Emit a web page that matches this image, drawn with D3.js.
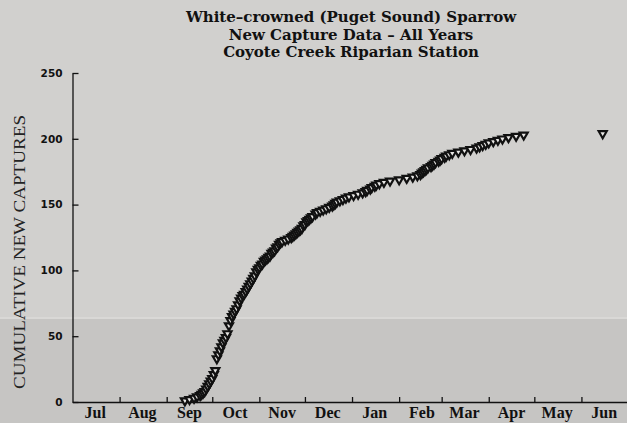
<!DOCTYPE html>
<html>
<head>
<meta charset="utf-8">
<script src="https://d3js.org/d3.v7.min.js"></script>
<style>
  body { margin: 0; background: #d1d0ce; }
  svg { display: block; }
</style>
</head>
<body>
<svg width="627" height="423"></svg>
<script>
// capture dates (season runs Jul -> Jun) and cumulative new captures, one line per month
const captureDates = [
  "09-13","09-16","09-19","09-21","09-23","09-24","09-25","09-26","09-27","09-28","09-29","09-30",
  "10-01","10-02","10-03","10-04","10-05","10-06","10-07","10-08","10-09","10-10","10-11","10-12","10-13","10-14","10-15","10-16",
  "10-17","10-18","10-19","10-20","10-21","10-22","10-23","10-24","10-25","10-26","10-27","10-28","10-29","10-30","10-31",
  "11-01","11-02","11-03","11-04","11-05","11-06","11-07","11-08","11-09","11-10","11-11","11-12","11-13","11-14","11-15","11-16",
  "11-18","11-20","11-22","11-23","11-24","11-25","11-26","11-27","11-28","11-29","11-30",
  "12-01","12-02","12-03","12-04","12-05","12-06","12-08","12-09","12-11","12-13","12-15","12-17","12-19","12-20","12-21","12-22",
  "12-24","12-26","12-28","12-30",
  "01-02","01-05","01-08","01-10","01-11","01-13","01-14","01-16","01-17","01-19","01-22","01-26",
  "02-01","02-06","02-10","02-13","02-15","02-16","02-17","02-18","02-19","02-20","02-22","02-23","02-24","02-25","02-27","02-28",
  "03-01","03-03","03-04","03-06","03-08","03-12","03-16","03-20","03-24","03-26","03-28","03-30",
  "04-01","04-04","04-07","04-10","04-14","04-19","04-24",
  "06-15"
];
const cumulative = [
  1,2,3,4,5,6,7,8,10,12,14,16,
  18,21,24,33,36,39,42,45,47,49,52,58,62,65,67,69,
  71,74,77,79,81,82,84,86,88,90,92,94,96,99,101,
  102,104,105,107,108,109,110,111,113,114,115,117,118,120,121,122,
  123,124,125,126,127,128,129,130,131,132,134,
  135,137,138,139,140,141,143,144,145,146,147,148,149,150,151,152,
  153,154,155,156,
  157,158,159,160,161,162,163,164,165,166,167,168,
  169,170,171,172,173,174,175,176,177,178,179,180,181,182,183,184,
  185,186,187,188,189,190,191,192,193,194,195,196,
  197,198,199,200,201,202,203,
  204
];
const monthLabels = ["Jul","Aug","Sep","Oct","Nov","Dec","Jan","Feb","Mar","Apr","May","Jun"];
const yTicks = [0, 50, 100, 150, 200, 250];
const titleLines = [
  "White\u2013crowned (Puget Sound) Sparrow",
  "New Capture Data \u2013 All Years",
  "Coyote Creek Riparian Station"
];

function toDate(s) {
  const [m, d] = s.split("-").map(Number);
  return new Date(m >= 7 ? 2001 : 2002, m - 1, d);
}
const data = captureDates.map((s, i) => ({ date: toDate(s), value: cumulative[i] }));

const svg = d3.select("svg");

// paper background, lower part of the scan is a bit darker
svg.append("rect").attr("width", 627).attr("height", 423).attr("fill", "#d1d0ce");
svg.append("rect").attr("y", 319).attr("width", 627).attr("height", 104).attr("fill", "#c6c5c3");
svg.append("rect").attr("y", 317).attr("width", 627).attr("height", 2).attr("fill", "#d9d8d6");

const x = d3.scaleTime()
  .domain([new Date(2001, 6, 1), new Date(2002, 6, 1)])
  .range([72.5, 627]);
const y = d3.scaleLinear().domain([0, 250]).range([402, 73]);

// title
svg.append("g").selectAll("text").data(titleLines).enter().append("text")
  .attr("x", 351)
  .attr("y", (d, i) => 22 + i * 17.5)
  .attr("text-anchor", "middle")
  .attr("font-family", "DejaVu Serif")
  .attr("font-weight", "bold")
  .attr("font-size", 15)
  .attr("fill", "#111")
  .text(d => d);

// y axis
const yAxis = svg.append("g")
  .attr("transform", "translate(72.5,0)")
  .call(d3.axisLeft(y).tickValues(yTicks).tickSize(-6).tickSizeOuter(0).tickPadding(10));
yAxis.select(".domain").attr("stroke", "#111").attr("stroke-width", 1.3);
yAxis.selectAll(".tick line").attr("stroke", "#111").attr("stroke-width", 1.3);
yAxis.selectAll(".tick text")
  .attr("font-family", "DejaVu Sans")
  .attr("font-weight", "bold")
  .attr("font-size", 10.5)
  .attr("fill", "#111");

// x axis: ticks at month boundaries, labels mid-month
const monthStarts = d3.timeMonth.range(new Date(2001, 7, 1), new Date(2002, 6, 1));
const xAxis = svg.append("g")
  .attr("transform", "translate(0,402)")
  .call(d3.axisBottom(x).tickValues(monthStarts).tickSize(-5).tickSizeOuter(0).tickFormat(""));
xAxis.select(".domain").attr("stroke", "#111").attr("stroke-width", 1.3);
xAxis.selectAll(".tick line").attr("stroke", "#111").attr("stroke-width", 1.3);

const midMonths = d3.timeMonth.range(new Date(2001, 6, 1), new Date(2002, 6, 1))
  .map(d => new Date(d.getFullYear(), d.getMonth(), 16));
svg.append("g").selectAll("text").data(midMonths).enter().append("text")
  .attr("x", d => x(d))
  .attr("y", 418)
  .attr("text-anchor", "middle")
  .attr("font-family", "Liberation Serif")
  .attr("font-weight", "bold")
  .attr("font-size", 16)
  .attr("fill", "#111")
  .text((d, i) => monthLabels[i]);

// y axis title
svg.append("text")
  .attr("transform", "translate(25,252) rotate(-90)")
  .attr("text-anchor", "middle")
  .attr("font-family", "Liberation Serif")
  .attr("font-size", 17)
  .attr("textLength", 274)
  .attr("lengthAdjust", "spacingAndGlyphs")
  .attr("fill", "#222")
  .text("CUMULATIVE NEW CAPTURES");

// markers: open downward triangles
const tri = d3.symbol().type(d3.symbolTriangle).size(28);
svg.append("g").selectAll("path").data(data).enter().append("path")
  .attr("d", tri)
  .attr("transform", d => `translate(${x(d.date)},${y(d.value)}) rotate(180)`)
  .attr("fill", "#e8e7e5")
  .attr("stroke", "#111")
  .attr("stroke-width", 2.2);
</script>
</body>
</html>
